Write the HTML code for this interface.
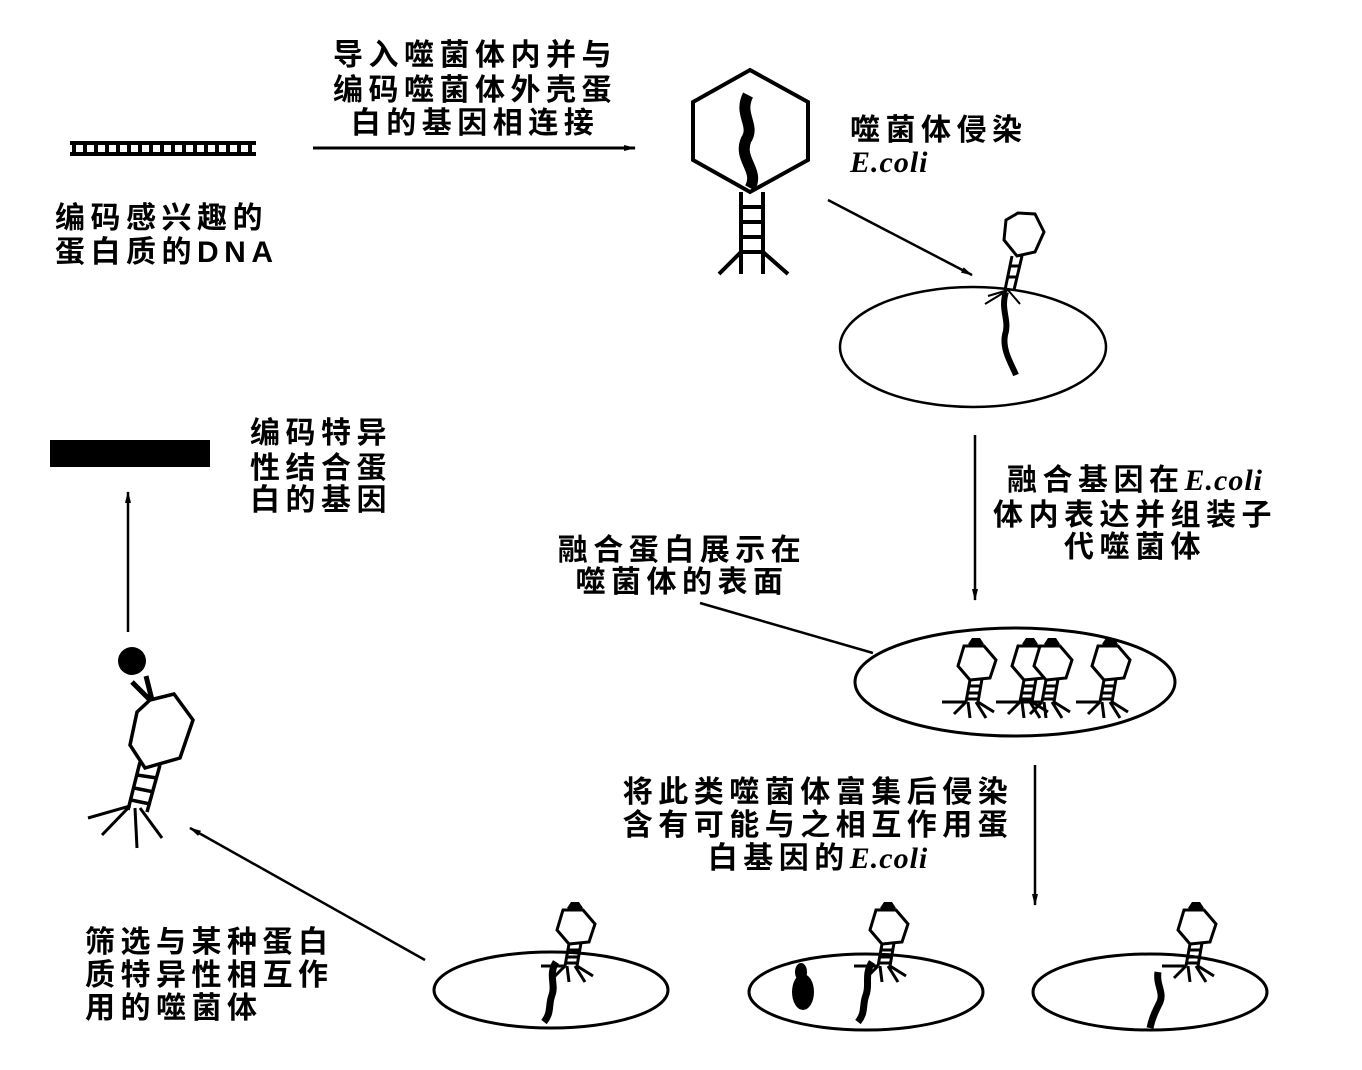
<!DOCTYPE html>
<html><head><meta charset="utf-8"><style>
html,body{margin:0;padding:0;background:#fff;}
svg{display:block;}
text{font-family:"Liberation Sans","Noto Sans CJK SC",sans-serif;font-size:30px;font-weight:bold;fill:#000;letter-spacing:5.5px;}
.i{font-family:"Liberation Serif",serif;font-style:italic;font-weight:bold;letter-spacing:1px;}
</style></head><body>
<svg width="1362" height="1070" viewBox="0 0 1362 1070" xmlns="http://www.w3.org/2000/svg">
<defs>
<marker id="ah" markerWidth="12" markerHeight="8" refX="11" refY="4" orient="auto" markerUnits="userSpaceOnUse">
<path d="M0,1 L12,4 L0,7 Z" fill="#000"/></marker>
<g id="ph">
<path d="M-4,-66 L4,-66 L8,-60 L0,-56 L-8,-60 Z" fill="#000"/>
<polygon points="-12,-58 8,-58 20,-44 14,-26 -6,-24 -18,-38" fill="#fff" stroke="#000" stroke-width="3"/>
<path d="M-6,-24 L-10,-2 M6,-25 L2,-2 M-7,-18 L5,-18 M-8,-11 L4,-11 M-9,-5 L3,-5" stroke="#000" stroke-width="3" fill="none"/>
<path d="M-10,-2 L-34,-2 M-10,-2 L-22,10 M-8,-2 L-6,14 M0,-2 L10,14 M2,-2 L18,8" stroke="#000" stroke-width="3" fill="none"/>
</g>
</defs>

<!-- DNA ladder -->
<rect x="70" y="141" width="186" height="4" fill="#000"/>
<rect x="70" y="152" width="186" height="4" fill="#000"/>
<path d="M74,143V154 M85,143V154 M96,143V154 M107,143V154 M118,143V154 M129,143V154 M140,143V154 M151,143V154 M162,143V154 M173,143V154 M184,143V154 M195,143V154 M206,143V154 M217,143V154 M228,143V154 M239,143V154 M250,143V154" stroke="#000" stroke-width="4"/>
<text x="55" y="228">编码感兴趣的</text>
<text x="55" y="262">蛋白质的DNA</text>

<text x="475" y="65" text-anchor="middle">导入噬菌体内并与</text>
<text x="475" y="100" text-anchor="middle">编码噬菌体外壳蛋</text>
<text x="475" y="133" text-anchor="middle">白的基因相连接</text>
<line x1="313" y1="148" x2="635" y2="148" stroke="#000" stroke-width="3" marker-end="url(#ah)"/>

<!-- top phage -->
<polygon points="750,70 808,102 808,160 750,192 693,160 693,102" fill="none" stroke="#000" stroke-width="4"/>
<path d="M748,95 C738,115 756,125 746,140 C738,160 760,170 750,188" stroke="#000" stroke-width="11" fill="none"/>
<path d="M741,192V274 M763,192V274 M741,207H763 M741,222H763 M741,237H763 M741,252H763 M741,252L719,274 M763,252L788,274" stroke="#000" stroke-width="4" fill="none"/>
<text x="850" y="140">噬菌体侵染</text>
<text class="i" x="850" y="172">E.coli</text>
<line x1="828" y1="200" x2="972" y2="275" stroke="#000" stroke-width="2.5" marker-end="url(#ah)"/>

<!-- ellipse 1 -->
<ellipse cx="973" cy="347" rx="133" ry="60" fill="none" stroke="#000" stroke-width="2.5"/>
<polygon points="1018,213 1035,214 1044,232 1035,252 1017,256 1004,240 1006,220" fill="#fff" stroke="#000" stroke-width="3"/>
<path d="M1012,256 L1005,290 M1022,256 L1014,290 M1010,266 L1020,266 M1008,277 L1018,277" stroke="#000" stroke-width="3" fill="none"/>
<path d="M1008,290 L988,296 M1008,290 L985,304 M1008,290 L1020,304" stroke="#000" stroke-width="2" fill="none"/>
<path d="M1006,292 C1000,310 1010,320 1005,335 C1002,350 1012,365 1016,375" stroke="#000" stroke-width="6" fill="none"/>

<line x1="975" y1="435" x2="975" y2="600" stroke="#000" stroke-width="2.5" marker-end="url(#ah)"/>
<text x="1135" y="490" text-anchor="middle">融合基因在<tspan class="i">E.coli</tspan></text>
<text x="1135" y="525" text-anchor="middle">体内表达并组装子</text>
<text x="1135" y="557" text-anchor="middle">代噬菌体</text>

<text x="682" y="560" text-anchor="middle">融合蛋白展示在</text>
<text x="682" y="592" text-anchor="middle">噬菌体的表面</text>
<line x1="700" y1="603" x2="873" y2="653" stroke="#000" stroke-width="2.5"/>

<ellipse cx="1015" cy="682" rx="160" ry="54" fill="none" stroke="#000" stroke-width="3"/>
<use href="#ph" x="976" y="704"/>
<use href="#ph" x="1030" y="704"/>
<use href="#ph" x="1052" y="704"/>
<use href="#ph" x="1110" y="704"/>

<!-- left -->
<rect x="50" y="440" width="160" height="27" fill="#000"/>
<text x="250" y="443">编码特异</text>
<text x="250" y="478">性结合蛋</text>
<text x="250" y="510">白的基因</text>
<line x1="128" y1="632" x2="128" y2="492" stroke="#000" stroke-width="2.5" marker-end="url(#ah)"/>
<circle cx="132" cy="661" r="14" fill="#000"/>
<path d="M132,682 L150,700 M146,676 L152,700" stroke="#000" stroke-width="5"/>
<polygon points="150,700 174,694 193,720 180,758 145,768 130,745 137,712" fill="#fff" stroke="#000" stroke-width="3.5"/>
<path d="M140,762 L128,810 M160,765 L147,812 M137,775 L157,778 M134,788 L154,792 M131,800 L150,804" stroke="#000" stroke-width="3.5" fill="none"/>
<path d="M130,806 L88,818 M130,806 L102,835 M135,808 L137,848 M140,808 L162,838" stroke="#000" stroke-width="3" fill="none"/>

<line x1="1035" y1="765" x2="1035" y2="905" stroke="#000" stroke-width="2.5" marker-end="url(#ah)"/>
<text x="818" y="802" text-anchor="middle">将此类噬菌体富集后侵染</text>
<text x="818" y="835" text-anchor="middle">含有可能与之相互作用蛋</text>
<text x="818" y="868" text-anchor="middle">白基因的<tspan class="i">E.coli</tspan></text>

<line x1="425" y1="960" x2="190" y2="828" stroke="#000" stroke-width="2.5" marker-end="url(#ah)"/>
<text x="85" y="952">筛选与某种蛋白</text>
<text x="85" y="985">质特异性相互作</text>
<text x="85" y="1018">用的噬菌体</text>

<!-- bottom ellipses -->
<ellipse cx="551" cy="990" rx="117" ry="38" fill="none" stroke="#000" stroke-width="3"/>
<ellipse cx="866" cy="992" rx="117" ry="38" fill="none" stroke="#000" stroke-width="3"/>
<ellipse cx="1150" cy="992" rx="117" ry="38" fill="none" stroke="#000" stroke-width="3"/>
<g transform="translate(575,968)"><use href="#ph"/></g>
<g transform="translate(888,968)"><use href="#ph"/></g>
<g transform="translate(1196,968)"><use href="#ph"/></g>
<path d="M556,962 C548,975 556,985 552,995 C548,1005 552,1012 544,1022" stroke="#000" stroke-width="7" fill="none"/>
<path d="M872,962 C864,975 870,985 866,995 C862,1005 866,1012 858,1022" stroke="#000" stroke-width="7" fill="none"/>
<ellipse cx="803" cy="992" rx="11" ry="18" fill="#000"/>
<ellipse cx="801" cy="972" rx="6" ry="9" fill="#000"/>
<path d="M1158,972 C1156,985 1164,992 1160,1002 C1156,1010 1152,1018 1150,1028" stroke="#000" stroke-width="7" fill="none"/>
</svg>
</body></html>
